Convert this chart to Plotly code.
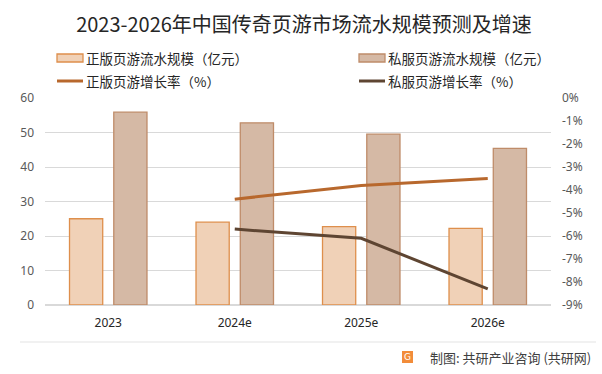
import plotly.graph_objects as go

# ---- data ----
categories = ["2023", "2024e", "2025e", "2026e"]
official_scale = [25.0, 24.0, 22.7, 22.2]        # 正版页游流水规模（亿元）
private_scale = [55.9, 52.8, 49.5, 45.4]         # 私服页游流水规模（亿元）
growth_categories = ["2024e", "2025e", "2026e"]
official_growth = [-4.4, -3.8, -3.5]             # 正版页游增长率（%）
private_growth = [-5.7, -6.1, -8.3]              # 私服页游增长率（%）
left_ticks = [0, 10, 20, 30, 40, 50, 60]
right_tickvals = [0, -1, -2, -3, -4, -5, -6, -7, -8, -9]
right_ticktext = ["0%", "-1%", "-2%", "-3%", "-4%", "-5%", "-6%", "-7%", "-8%", "-9%"]

title_text = "2023-2026年中国传奇页游市场流水规模预测及增速"
legend_names = ["正版页游流水规模（亿元）", "私服页游流水规模（亿元）",
                "正版页游增长率（%）", "私服页游增长率（%）"]
footer_text = "制图: 共研产业咨询 (共研网)"

# ---- styles ----
W, H = 602, 374
L, R, T, B = 45, 551, 98, 305
FONT = "Noto Sans CJK SC"
c_off_fill, c_off_line = "#F0D1B7", "#DE8F4C"
c_pri_fill, c_pri_line = "#D5B9A5", "#BF8C69"
c_off_growth, c_pri_growth = "#B8682D", "#5E4532"


def px(x):
    return (x - L) / (R - L)


def py(y):
    return (B - y) / (B - T)


fig = go.Figure()
fig.add_trace(go.Bar(x=categories, y=official_scale, name=legend_names[0],
                     marker=dict(color=c_off_fill, line=dict(color=c_off_line, width=1.3)),
                     showlegend=False))
fig.add_trace(go.Bar(x=categories, y=private_scale, name=legend_names[1],
                     marker=dict(color=c_pri_fill, line=dict(color=c_pri_line, width=1.3)),
                     showlegend=False))
fig.add_trace(go.Scatter(x=growth_categories, y=official_growth, name=legend_names[2],
                         mode="lines", line=dict(color=c_off_growth, width=3),
                         yaxis="y2", showlegend=False))
fig.add_trace(go.Scatter(x=growth_categories, y=private_growth, name=legend_names[3],
                         mode="lines", line=dict(color=c_pri_growth, width=3),
                         yaxis="y2", showlegend=False))

shapes = []
annotations = []

# manual legend
legend_items = [
    (57, 58, "bar", c_off_fill, c_off_line, legend_names[0]),
    (359, 58, "bar", c_pri_fill, c_pri_line, legend_names[1]),
    (57, 81, "line", None, c_off_growth, legend_names[2]),
    (359, 81, "line", None, c_pri_growth, legend_names[3]),
]
for x0, yc, kind, fill, line, name in legend_items:
    if kind == "bar":
        shapes.append(dict(type="rect", xref="paper", yref="paper",
                           x0=px(x0), x1=px(x0 + 26), y0=py(yc + 4), y1=py(yc - 4),
                           fillcolor=fill, line=dict(color=line, width=1.3)))
    else:
        shapes.append(dict(type="line", xref="paper", yref="paper",
                           x0=px(x0), x1=px(x0 + 26), y0=py(yc), y1=py(yc),
                           line=dict(color=line, width=3)))
    annotations.append(dict(text=name, xref="paper", yref="paper",
                            x=px(x0 + 27), y=py(yc), xanchor="left", yanchor="middle",
                            showarrow=False, font=dict(family=FONT, size=13.5, color="#262626")))

# footer
shapes.append(dict(type="line", xref="paper", yref="paper",
                   x0=px(20), x1=px(596), y0=py(342), y1=py(342),
                   line=dict(color="#E3E3E3", width=1)))
shapes.append(dict(type="rect", xref="paper", yref="paper",
                   x0=px(402), x1=px(413), y0=py(363), y1=py(351),
                   fillcolor="#F28C3A", line=dict(width=0)))
annotations.append(dict(text="G", xref="paper", yref="paper", x=px(407.5), y=py(357),
                        xanchor="center", yanchor="middle", showarrow=False,
                        font=dict(family="DejaVu Sans", size=9, color="white")))
annotations.append(dict(text=footer_text, xref="paper", yref="paper",
                        x=px(593), y=py(357), xanchor="right", yanchor="middle",
                        showarrow=False, font=dict(family=FONT, size=13, color="#404040")))

fig.update_layout(
    width=W, height=H,
    margin=dict(l=L, r=W - R, t=T, b=H - B, autoexpand=False),
    paper_bgcolor="white", plot_bgcolor="white",
    title=dict(text=title_text, x=0.505, xanchor="center", y=1 - 25 / H, yanchor="middle",
               font=dict(family=FONT, size=20, color="#262626")),
    barmode="group", bargap=0.30, bargroupgap=0.25,
    showlegend=False,
    xaxis=dict(type="category", categoryorder="array", categoryarray=categories,
               showline=False, showgrid=False, ticks="", ticklabelstandoff=9,
               tickfont=dict(family="Noto Sans", size=12, color="#262626")),
    yaxis=dict(range=[0, 60], tickvals=left_ticks, showgrid=True, gridcolor="#D9D9D9",
               gridwidth=1, zeroline=True, zerolinecolor="#D9D9D9", showline=False,
               ticks="", ticklabelstandoff=10,
               tickfont=dict(family="Noto Sans", size=12, color="#595959")),
    yaxis2=dict(overlaying="y", side="right", range=[-9, 0], tickvals=right_tickvals,
                ticktext=right_ticktext, showgrid=False, zeroline=False, showline=False,
                ticks="", ticklabelstandoff=10,
                tickfont=dict(family="Noto Sans", size=12, color="#595959")),
    shapes=shapes, annotations=annotations,
)

fig.write_html("out.html", config={"displayModeBar": False},
               post_script="document.body.style.margin='0';document.body.style.overflow='hidden';")
